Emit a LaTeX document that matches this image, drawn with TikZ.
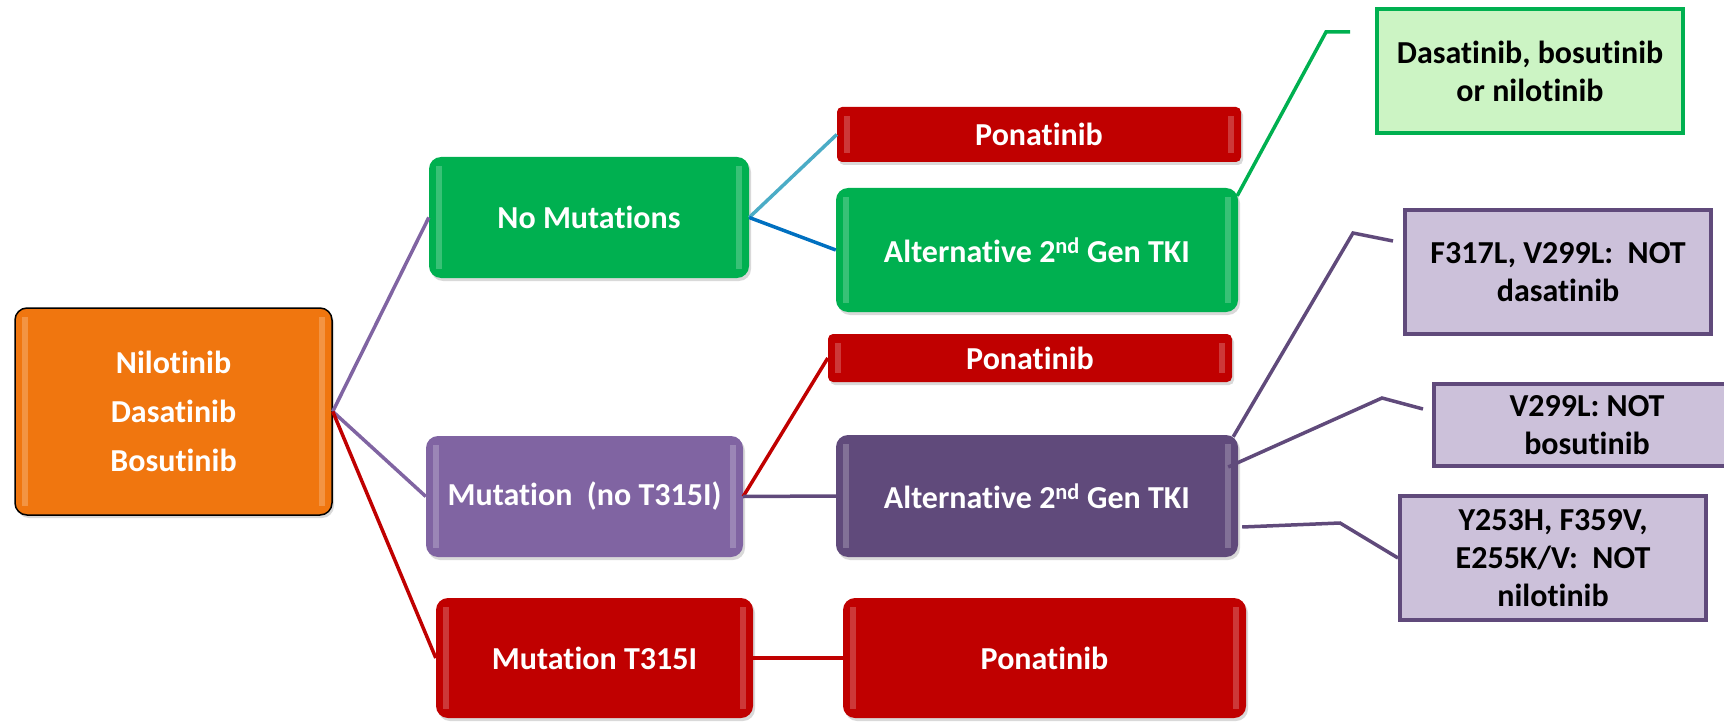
\documentclass[tikz,border=0pt]{standalone}
\usepackage{fontspec}
\setmainfont{Carlito}[Ligatures={NoCommon,NoContextual,NoRare},Contextuals=NoAlternate]
\usepackage{tikz}
\usetikzlibrary{calc,shadows}
\definecolor{tkorange}{HTML}{F0760F}
\definecolor{tkgreen}{HTML}{00B050}
\definecolor{tkred}{HTML}{C00000}
\definecolor{tkpurple}{HTML}{8064A2}
\definecolor{tkplum}{HTML}{604A7B}
\definecolor{tklilac}{HTML}{CCC1DA}
\definecolor{tkmint}{HTML}{CCF4C4}
\definecolor{tksky}{HTML}{4BACC6}
\definecolor{tkblue}{HTML}{0070C0}
\begin{document}
\begin{tikzpicture}[x=1pt,y=-1pt,
  font=\bfseries\fontsize{32}{38}\selectfont,
  bevel/.style={rounded corners=12pt,text=white,align=center,inner sep=0pt,
    drop shadow={opacity=0.3,shadow xshift=2pt,shadow yshift=-3pt},
    path picture={
      \fill[white,opacity=0.22,sharp corners]
        ($(path picture bounding box.north west)+(7pt,-9pt)$) rectangle
        ($(path picture bounding box.south west)+(13pt,9pt)$);
      \fill[white,opacity=0.22,sharp corners]
        ($(path picture bounding box.north east)+(-13pt,-9pt)$) rectangle
        ($(path picture bounding box.south east)+(-7pt,9pt)$);}},
  drug/.style={bevel,draw=black,line width=1.5pt,fill=tkorange,
    font=\bfseries\fontsize{32}{49}\selectfont},
  nomut/.style={bevel,fill=tkgreen},
  mut/.style={bevel,fill=tkpurple},
  tki/.style={bevel,fill=tkplum},
  pona/.style={bevel,fill=tkred},
  slim/.style={bevel,fill=tkred,rounded corners=5pt},
  note/.style={draw=tkplum,line width=4pt,fill=tklilac,align=center,
    minimum width=306pt,font=\bfseries\fontsize{32}{38}\selectfont},
  ln/.style={line width=3.5pt},
]
\useasboundingbox (0,0) rectangle (1724,722);

% first line therapy
\node[drug,minimum width=317pt,minimum height=207pt] (drug) at (173.5,411.5)
  {Nilotinib\\Dasatinib\\Bosutinib};

% mutation status
\node[nomut,minimum width=320pt,minimum height=121pt] (none) at (589,217.5) {No Mutations};
\node[mut,minimum width=317pt,minimum height=121pt] (mutno) at (584.5,496.5)
  {Mutation\ \ (no T315I)};
\node[pona,minimum width=317pt,minimum height=120pt] (mutT) at (594.5,658) {Mutation T315I};

% options
\node[slim,minimum width=404pt,minimum height=55pt] (pona1) at (1039,134.5) {Ponatinib};
\node[nomut,minimum width=402pt,minimum height=124pt] (tki1) at (1037,250)
  {Alternative 2\textsuperscript{nd} Gen TKI};
\node[slim,minimum width=404pt,minimum height=48pt] (pona2) at (1030,358) {Ponatinib};
\node[tki,minimum width=402pt,minimum height=122pt] (tki2) at (1037,496)
  {Alternative 2\textsuperscript{nd} Gen TKI};
\node[pona,minimum width=403pt,minimum height=120pt] (pona3) at (1044.5,658) {Ponatinib};

% notes
\node[note,draw=tkgreen,fill=tkmint,minimum height=124pt] (gnote) at (1530,71)
  {Dasatinib, bosutinib\\or nilotinib};
\node[note,minimum height=124pt] (f317) at (1558,272) {F317L, V299L:\ \ NOT\\dasatinib};
\node[note,minimum height=82pt] (v299) at (1587,425) {V299L: NOT\\bosutinib};
\node[note,minimum height=124pt] (y253) at (1553,558)
  {Y253H, F359V,\\E255K/V:\ \ NOT\\nilotinib};

\draw[ln,tkpurple] (drug.east) -- (none.west);
\draw[ln,tkpurple] (drug.east) -- (mutno.west);
\draw[ln,tkred] (drug.east) -- (mutT.west);
\draw[ln,tksky] (none.east) -- (pona1.west);
\draw[ln,tkblue] (none.east) -- (tki1.west);
\draw[ln,tkred] (mutno.east) -- (pona2.west);
\draw[ln,tkplum] (mutno.east) -- (tki2.west);
\draw[ln,tkred] (mutT.east) -- (pona3.west);

% leader lines to the notes
\coordinate (g1) at (1326,32);
\coordinate (g2) at (1350,32);
\coordinate (f1) at (1353,233);
\coordinate (f2) at (1393,241);
\coordinate (v1) at (1382,398);
\coordinate (v2) at (1423,409);
\coordinate (y1) at (1340,523);
\draw[ln,tkgreen] ($(tki1.north east)+(-1,8)$) -- (g1) -- (g2);
\draw[ln,tkplum] ($(tki2.north east)+(-5,2)$) -- (f1) -- (f2);
\draw[ln,tkplum] ($(tki2.east)+(-10,-29)$) -- (v1) -- (v2);
\draw[ln,tkplum] ($(tki2.east)+(4,31)$) -- (y1) -- (y253.west);
\end{tikzpicture}
\end{document}
